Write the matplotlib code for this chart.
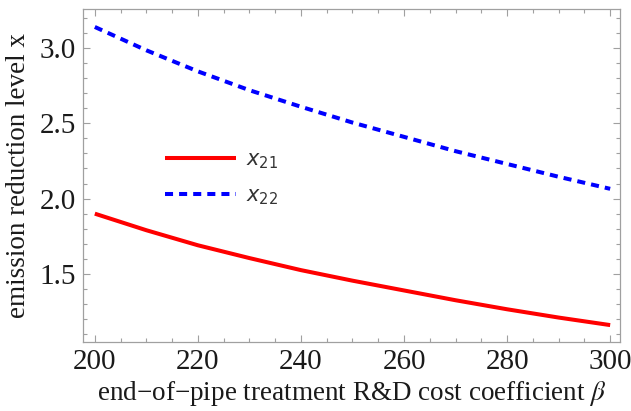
import matplotlib
matplotlib.use("Agg")
import matplotlib.pyplot as plt
from matplotlib.ticker import MultipleLocator, FormatStrFormatter

# cost coefficient beta and the two emission reduction levels
beta = [200, 210, 220, 230, 240, 250, 260, 270, 280, 290, 300]
x21 = [1.90, 1.79, 1.69, 1.605, 1.525, 1.455, 1.39, 1.325, 1.265, 1.21, 1.16]
x22 = [3.14, 2.985, 2.845, 2.72, 2.61, 2.505, 2.41, 2.315, 2.23, 2.145, 2.065]

plt.rcParams['font.family'] = ['Liberation Serif', 'DejaVu Serif']
plt.rcParams['mathtext.fontset'] = 'stix'

fig = plt.figure(figsize=(6.31, 4.11), dpi=100)
ax = fig.add_axes([0.1315, 0.168, 0.851, 0.810])

ax.plot(beta, x21, color='#ff0000', lw=2.9, solid_capstyle='butt', label='$x_{21}$')
ax.plot(beta, x22, color='#0000ff', lw=2.9, ls=(0, (2.0, 1.5)), label='$x_{22}$')

ax.set_xlim(197.7, 301.9)
ax.set_ylim(1.048, 3.259)
ax.xaxis.set_major_locator(MultipleLocator(20))
ax.xaxis.set_minor_locator(MultipleLocator(5))
ax.yaxis.set_major_locator(MultipleLocator(0.5))
ax.yaxis.set_minor_locator(MultipleLocator(0.1))
ax.yaxis.set_major_formatter(FormatStrFormatter('%.1f'))

for s in ax.spines.values():
    s.set_color('#a0a0a0')
    s.set_linewidth(0.9)
ax.tick_params(which='both', direction='in', top=True, right=True,
               color='#a0a0a0', width=0.8, labelsize=21, labelcolor='#1a1a1a')
ax.tick_params(which='major', length=5, pad=5)
ax.tick_params(which='minor', length=3)

ax.set_xlabel('end\u2212of\u2212pipe treatment R&D cost coefficient $\\beta$',
              fontsize=19.5, color='#1a1a1a', labelpad=3)
ax.set_ylabel('emission reduction level x', fontsize=19.5, color='#1a1a1a', labelpad=6)

# legend entries drawn in a sans face
leg = ax.legend(loc='upper left', bbox_to_anchor=(0.118, 0.635), frameon=False,
                handlelength=3.4, handletextpad=0.5, labelspacing=0.7,
                prop={'family': 'DejaVu Sans', 'size': 15, 'math_fontfamily': 'dejavusans'})
for t in leg.get_texts():
    t.set_color('#333333')

fig.savefig('out.png', dpi=100)
